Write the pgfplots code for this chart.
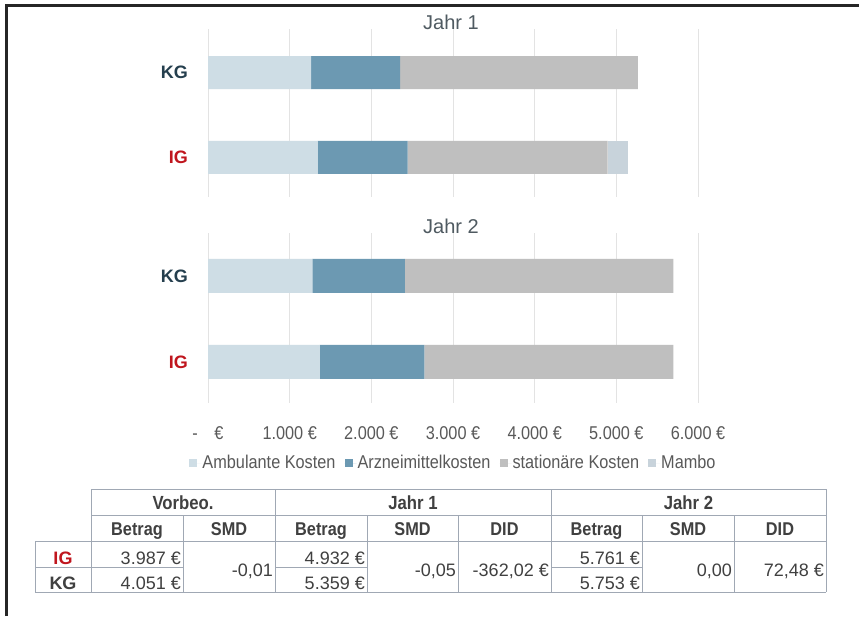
\documentclass[border=0pt]{standalone}
\usepackage{pgfplots}
\pgfplotsset{compat=1.18}
\usepackage{fontspec}
\setmainfont{Liberation Sans}[FakeStretch=0.88]
\newfontfamily\plainfont{Liberation Sans}
\definecolor{cAmb}{HTML}{CEDDE5}
\definecolor{cArz}{HTML}{6C99B2}
\definecolor{cSta}{HTML}{BFBFBF}
\definecolor{cMam}{HTML}{C8D3DB}
\definecolor{gridc}{HTML}{E3E3E3}
\definecolor{txt}{HTML}{595959}
\definecolor{ttl}{HTML}{4F5A61}
\definecolor{tabtxt}{HTML}{404040}
\definecolor{tabline}{HTML}{A0A8B4}
\definecolor{igred}{HTML}{C0161E}
\definecolor{kgnavy}{HTML}{253F4E}
\definecolor{framec}{HTML}{262626}
\newcommand{\fs}[1]{\fontsize{#1}{#1}\selectfont}
\pgfplotsset{
  panel/.style={
    scale only axis, anchor=south west, width=490pt,
    xbar stacked, 
    xmin=0, xmax=6000,
    xtick={0,1000,2000,3000,4000,5000,6000},
    xmajorgrids, grid style={gridc, line width=1pt},
    axis line style={draw=none}, major tick length=0pt, tick style={draw=none},
    ytick={0,1},
    yticklabels={\textcolor{igred}{IG},\textcolor{kgnavy}{KG}},
    yticklabel style={font=\plainfont\bfseries\fs{18}, anchor=east, inner sep=0pt, xshift=-20pt},
    title style={at={(0.5,1)}, anchor=base, yshift=-7pt, xshift=-2pt, font=\plainfont\fs{20}, text=ttl},
    legend image code/.code={\fill[##1] (0pt,-4pt) rectangle (8pt,4pt); \path (0pt,0pt) -- (12pt,0pt);},
  }
}
\begin{document}
\begin{tikzpicture}
\fill[white] (0,0) rectangle (859pt,616pt);
\path[use as bounding box] (0,0) rectangle (859pt,616pt);
% frame (top and left edges)
\draw[framec, line width=3pt] (6pt,0pt) -- (6pt,610pt) -- (859pt,610pt);

% ---------------- Jahr 1
\begin{axis}[panel, at={(208pt,419pt)}, height=168pt, bar width=33pt,
  ymin=-0.465, ymax=1.512, xticklabels={}, title={Jahr 1}]
\addplot[fill=cAmb, draw=none] coordinates {(1343,0) (1262,1)};
\addplot[fill=cArz, draw=none] coordinates {(1102,0) (1091,1)};
\addplot[fill=cSta, draw=none] coordinates {(2449,0) (2912,1)};
\addplot[fill=cMam, draw=none] coordinates {(253,0) (0,1)};
\end{axis}

% ---------------- Jahr 2
\begin{axis}[panel, at={(208pt,213pt)}, height=170pt, bar width=34pt,
  ymin=-0.477, ymax=1.5, title={Jahr 2},
  xticklabels={-\hspace{0.9em}€, 1.000 €, 2.000 €, 3.000 €, 4.000 €, 5.000 €, 6.000 €},
  xticklabel style={anchor=base, yshift=-36pt, font=\fs{18.5}, text=txt, inner sep=0pt},
  legend style={at={(axis description cs:0.5,-0.353)}, anchor=center, draw=none,
    legend columns=4, font=\fs{18.5}, text=txt, fill=none,
    /tikz/every even column/.append style={column sep=8pt},
    nodes={inner sep=1pt}},
  legend cell align=left]
\addplot[fill=cAmb, draw=none] coordinates {(1371,0) (1278,1)};
\addplot[fill=cArz, draw=none] coordinates {(1278,0) (1134,1)};
\addplot[fill=cSta, draw=none] coordinates {(3049,0) (3286,1)};
\addplot[fill=cMam, draw=none] coordinates {(0,0) (0,1)};
\legend{Ambulante Kosten, Arzneimittelkosten, stationäre Kosten, Mambo}
\end{axis}

% ---------------- table
\begin{scope}[tabline, line width=1pt]
\draw (91pt,127pt) -- (826pt,127pt);
\draw (91pt,101pt) -- (826pt,101pt);
\draw (35pt,75pt) -- (826pt,75pt);
\draw (35pt,49pt) -- (183pt,49pt);
\draw (275pt,49pt) -- (367pt,49pt);
\draw (551pt,49pt) -- (642pt,49pt);
\draw (35pt,24pt) -- (826pt,24pt);
\draw (35pt,75pt) -- (35pt,24pt);
\foreach \x in {91,275,551,826} {\draw (\x pt,127pt) -- (\x pt,24pt);}
\foreach \x in {183,367,458,642,734} {\draw (\x pt,101pt) -- (\x pt,24pt);}
\end{scope}
\begin{scope}[every node/.style={inner sep=0pt, text=tabtxt, font=\plainfont\fs{18}}]
\node[anchor=base, font=\bfseries\fs{19}] at (183pt,107pt) {Vorbeo.};
\node[anchor=base, font=\bfseries\fs{19}] at (413pt,107pt) {Jahr 1};
\node[anchor=base, font=\bfseries\fs{19}] at (688.5pt,107pt) {Jahr 2};
\foreach \x/\t in {137/Betrag, 229/SMD, 321/Betrag, 412.5/SMD, 504.5/DID, 596.5/Betrag, 688/SMD, 780/DID}
  {\node[anchor=base, font=\bfseries\fs{18.5}] at (\x pt,81pt) {\t};}
\node[anchor=base, font=\plainfont\bfseries\fs{18}, text=igred] at (63pt,52pt) {IG};
\node[anchor=base, font=\plainfont\bfseries\fs{18}] at (63pt,27pt) {KG};
\node[anchor=base east] at (181pt,52pt) {3.987 €};
\node[anchor=base east] at (181pt,27pt) {4.051 €};
\node[anchor=base east] at (273pt,40pt) {-0,01};
\node[anchor=base east] at (365pt,52pt) {4.932 €};
\node[anchor=base east] at (365pt,27pt) {5.359 €};
\node[anchor=base east] at (456pt,40pt) {-0,05};
\node[anchor=base east] at (549pt,40pt) {-362,02 €};
\node[anchor=base east] at (640pt,52pt) {5.761 €};
\node[anchor=base east] at (640pt,27pt) {5.753 €};
\node[anchor=base east] at (732pt,40pt) {0,00};
\node[anchor=base east] at (824pt,40pt) {72,48 €};
\end{scope}
\end{tikzpicture}
\end{document}
